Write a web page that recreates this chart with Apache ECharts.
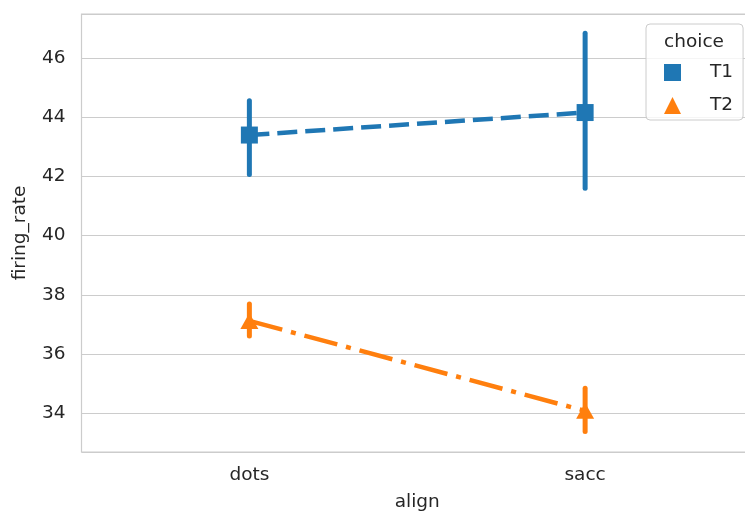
<!DOCTYPE html>
<html>
<head>
<meta charset="utf-8">
<script src="https://cdn.jsdelivr.net/npm/echarts@6/dist/echarts.min.js"></script>
<style>
html,body{margin:0;padding:0;background:#fff;overflow:hidden;}
#chart{width:745px;height:512px;}
</style>
</head>
<body>
<div id="chart"></div>
<script>
const categories = ['dots', 'sacc'];
const t1Mean = [43.40, 44.16];
const t1Low  = [42.07, 41.60];
const t1High = [44.56, 46.84];
const t2Mean = [37.12, 34.08];
const t2Low  = [36.61, 33.38];
const t2High = [37.69, 34.84];
const seriesNames = ['T1', 'T2'];
const legendTitle = 'choice';
const xName = 'align';
const yName = 'firing_rate';

const C1 = '#1f77b4', C2 = '#ff7f0e';
const FONT = 'DejaVu Sans';
const FS = 18.5;
const TXT = '#262626';

function errData(lo, hi) { return categories.map((c, i) => [i, lo[i], hi[i]]); }
function errRender(color) {
  return function (params, api) {
    const p1 = api.coord([api.value(0), api.value(1)]);
    const p2 = api.coord([api.value(0), api.value(2)]);
    return {
      type: 'line',
      shape: { x1: p1[0], y1: p1[1], x2: p2[0], y2: p2[1] },
      style: { stroke: color, lineWidth: 5, lineCap: 'round' }
    };
  };
}

const chart = echarts.init(document.getElementById('chart'), null, { renderer: 'canvas' });
chart.setOption({
  animation: false,
  backgroundColor: '#fff',
  grid: { left: 81.5, top: 14, right: -8, bottom: 60, outerBoundsMode: 'none', containLabel: false,
          show: true, borderColor: '#cccccc', borderWidth: 1.2, backgroundColor: 'transparent' },
  xAxis: {
    type: 'category', data: categories, boundaryGap: true,
    axisLine: { show: false }, axisTick: { show: false }, splitLine: { show: false },
    axisLabel: { color: TXT, fontFamily: FONT, fontSize: FS, margin: 14 },
    name: xName, nameLocation: 'middle', nameGap: 41,
    nameTextStyle: { color: TXT, fontFamily: FONT, fontSize: FS }
  },
  yAxis: {
    type: 'value', min: 32.69, max: 47.49, splitNumber: 7,
    axisLine: { show: false }, axisTick: { show: false },
    splitLine: { show: true, lineStyle: { color: '#cccccc', width: 1.2 } },
    axisLabel: { color: TXT, fontFamily: FONT, fontSize: FS, margin: 16, showMinLabel: false, showMaxLabel: false },
    name: yName, nameLocation: 'middle', nameGap: 52,
    nameTextStyle: { color: TXT, fontFamily: FONT, fontSize: FS }
  },
  legend: {
    orient: 'vertical', left: 646, top: 24,
    padding: [39, 10, 5, 18], itemGap: 14, itemWidth: 17, itemHeight: 17,
    backgroundColor: 'rgba(255,255,255,0.8)', borderColor: '#cccccc', borderWidth: 1, borderRadius: 4,
    textStyle: { color: TXT, fontFamily: FONT, fontSize: FS, padding: [0, 0, 0, 24] },
    data: [{ name: seriesNames[0], icon: 'rect' }, { name: seriesNames[1], icon: 'triangle' }],
    z: 10
  },
  graphic: [{
    type: 'text', x: 694, y: 42, z: 100,
    style: { text: legendTitle, fill: TXT, font: FS + 'px "DejaVu Sans"', align: 'center', verticalAlign: 'middle' }
  }],
  series: [
    { name: seriesNames[0], type: 'line', data: t1Mean, color: C1, z: 3,
      symbol: 'rect', symbolSize: 17, showAllSymbol: true,
      lineStyle: { color: C1, width: 4.5, type: [20, 8], cap: 'butt' },
      itemStyle: { color: C1 } },
    { name: seriesNames[1], type: 'line', data: t2Mean, color: C2, z: 3,
      symbol: 'triangle', symbolSize: [18, 16], showAllSymbol: true,
      lineStyle: { color: C2, width: 4.5, type: [34, 9, 5, 9], cap: 'butt' },
      itemStyle: { color: C2 } },
    { name: seriesNames[0] + '_err', type: 'custom', data: errData(t1Low, t1High), z: 2,
      renderItem: errRender(C1), encode: { x: 0, y: [1, 2] } },
    { name: seriesNames[1] + '_err', type: 'custom', data: errData(t2Low, t2High), z: 2,
      renderItem: errRender(C2), encode: { x: 0, y: [1, 2] } }
  ]
});
</script>
</body>
</html>
